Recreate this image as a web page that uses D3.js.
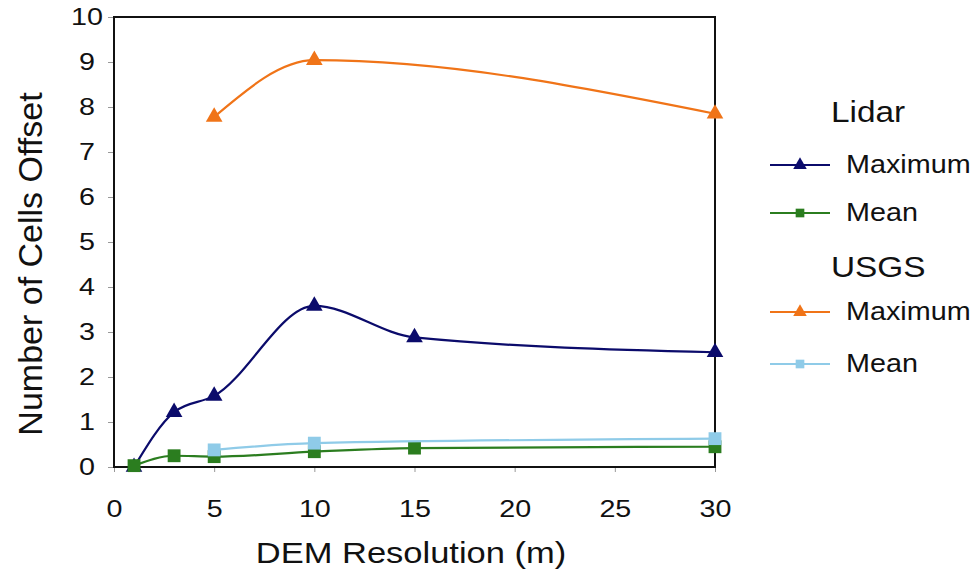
<!DOCTYPE html>
<html>
<head>
<meta charset="utf-8">
<script src="https://cdn.jsdelivr.net/npm/d3@7"></script>
<style>
  body { margin: 0; background: #fff; }
  text { font-family: Arial, "Liberation Sans", sans-serif; fill: #111; }
</style>
</head>
<body>
<svg id="chart" width="977" height="574"></svg>
<script>
// values
const lidarRes = [1, 3, 5, 10, 15, 30]
const lidarMax = [0, 1.22, 1.58, 3.58, 2.88, 2.55]
const lidarMean = [0.03, 0.25, 0.23, 0.34, 0.42, 0.45]
const usgsRes = [5, 10, 30]
const usgsMax = [7.78, 9.04, 7.85]
const usgsMean = [0.38, 0.53, 0.63]
const xTicks = [0, 5, 10, 15, 20, 25, 30]
const yTicks = [0, 1, 2, 3, 4, 5, 6, 7, 8, 9, 10]

const series = [
  { group: 'Lidar', name: 'Maximum', xs: lidarRes, ys: lidarMax, color: '#0b0b6b', shape: 'tri' },
  { group: 'Lidar', name: 'Mean', xs: lidarRes, ys: lidarMean, color: '#2b7d1f', shape: 'sq' },
  { group: 'USGS', name: 'Maximum', xs: usgsRes, ys: usgsMax, color: '#f07418', shape: 'tri' },
  { group: 'USGS', name: 'Mean', xs: usgsRes, ys: usgsMean, color: '#8fcbe8', shape: 'sq' },
]

const svg = d3.select('#chart')
const x = d3.scaleLinear().domain([0, 30]).range([114, 715])
const y = d3.scaleLinear().domain([0, 10]).range([467, 17])
const SX = 1.15  // text in the picture is a little wide

function label(g, px, py, txt, size, anchor) {
  return g.append('text')
    .attr('transform', `translate(${px},${py}) scale(${SX},1)`)
    .attr('text-anchor', anchor || 'start')
    .style('font-size', size + 'px')
    .text(txt)
}

function marker(shape, size) {
  return shape === 'tri'
    ? d3.symbol(d3.symbolTriangle, size)()
    : d3.symbol(d3.symbolSquare, size)()
}

// axes
const xAxis = svg.append('g')
  .attr('transform', `translate(0,${y(0)})`)
  .call(d3.axisBottom(x).tickValues(xTicks).tickSize(5).tickSizeOuter(0))
xAxis.select('.domain').remove()
xAxis.selectAll('line').attr('stroke', '#999')
xAxis.selectAll('text')
  .attr('y', 33)
  .attr('transform', `scale(${SX * 1.04},1)`)
  .style('font-size', '24px')
  .attr('fill', '#111')

const yAxis = svg.append('g')
  .attr('transform', `translate(${x(0)},0)`)
  .call(d3.axisLeft(y).tickValues(yTicks).tickSize(6).tickSizeOuter(0))
yAxis.select('.domain').remove()
yAxis.selectAll('line').attr('stroke', '#999')
yAxis.selectAll('text')
  .attr('x', -27 / (SX * 1.04))
  .attr('text-anchor', 'middle')
  .attr('transform', `scale(${SX * 1.04},1)`)
  .style('font-size', '24px')
  .attr('fill', '#111')

// plot frame
svg.append('rect')
  .attr('x', x(0)).attr('y', y(10))
  .attr('width', x(30) - x(0)).attr('height', y(0) - y(10))
  .attr('fill', 'none').attr('stroke', '#111').attr('stroke-width', 2)

// lines
const line = d3.line()
  .x(d => x(d[0]))
  .y(d => y(d[1]))
  .curve(d3.curveMonotoneX)

series.forEach(s => {
  const pts = s.xs.map((v, i) => [v, s.ys[i]])
  svg.append('path')
    .datum(pts)
    .attr('d', line)
    .attr('fill', 'none')
    .attr('stroke', s.color)
    .attr('stroke-width', 2.2)
  svg.append('g')
    .selectAll('path')
    .data(pts)
    .enter()
    .append('path')
    .attr('d', marker(s.shape, s.shape === 'tri' ? 120 : 165))
    .attr('transform', d => `translate(${x(d[0])},${y(d[1])})`)
    .attr('fill', s.color)
})

// axis titles
label(svg, 411, 563, 'DEM Resolution (m)', 30, 'middle')
svg.append('text')
  .attr('transform', 'translate(42,264) rotate(-90)')
  .attr('text-anchor', 'middle')
  .style('font-size', '34px')
  .text('Number of Cells Offset')

// legend
const legend = svg.append('g')
const legendRows = [
  { head: 'Lidar', hy: 122, rows: [[series[0], 165], [series[1], 213]] },
  { head: 'USGS', hy: 277, rows: [[series[2], 312], [series[3], 364]] },
]
legendRows.forEach(block => {
  label(legend, 831, block.hy, block.head, 29)
  block.rows.forEach(([s, ly]) => {
    legend.append('line')
      .attr('x1', 770).attr('x2', 830)
      .attr('y1', ly).attr('y2', ly)
      .attr('stroke', s.color).attr('stroke-width', 2.2)
    legend.append('path')
      .attr('d', marker(s.shape, s.shape === 'tri' ? 80 : 75))
      .attr('transform', `translate(800,${ly})`)
      .attr('fill', s.color)
    label(legend, 846, ly + 8, s.name, 25)
  })
})
</script>
</body>
</html>
